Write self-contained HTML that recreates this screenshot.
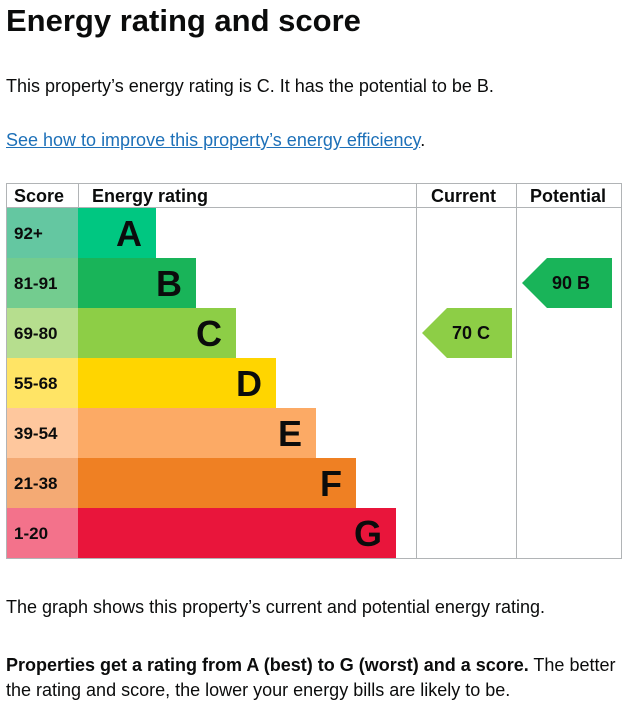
<!DOCTYPE html>
<html><head><meta charset="utf-8"><style>
body{margin:0;background:#fff;width:628px;height:708px;overflow:hidden;font-family:"Liberation Sans",Arial,sans-serif;color:#0b0c0c}
.t{position:absolute;left:6px;margin:0;white-space:nowrap}
</style></head><body>
<h1 class="t" style="top:3px;font-size:31px;font-weight:bold">Energy rating and score</h1>
<p class="t" style="top:76px;font-size:18px">This property’s energy rating is C. It has the potential to be B.</p>
<p class="t" style="top:130px;font-size:18px"><a href="#" style="color:#1d70b8;text-decoration:underline">See how to improve this property’s energy efficiency</a>.</p>
<svg id="chart" width="628" height="570" style="position:absolute;left:0;top:0" font-family="Liberation Sans, Arial, sans-serif"></svg>
<p class="t" style="top:597px;font-size:18px">The graph shows this property’s current and potential energy rating.</p>
<p class="t" style="top:653px;font-size:18px;line-height:25px"><b>Properties get a rating from A (best) to G (worst) and a score.</b> The better<br>the rating and score, the lower your energy bills are likely to be.</p>
<script>
const bands=['A','B','C','D','E','F','G'];
const ranges=['92+','81-91','69-80','55-68','39-54','21-38','1-20'];
const barColors=['#00c781','#19b459','#8dce46','#ffd500','#fcaa65','#ef8023','#e9153b'];
const scoreColors=['#64c7a1','#73cc8f','#b6de8e','#ffe465','#fec79d','#f4aa74','#f3728b'];
const currentScore=70, currentBand='C';
const potentialScore=90, potentialBand='B';
const svg=document.getElementById('chart');
const NS='http://www.w3.org/2000/svg';
function mk(tag,attrs,txt){const e=document.createElementNS(NS,tag);for(const k in attrs)e.setAttribute(k,attrs[k]);if(txt!==undefined)e.textContent=txt;svg.appendChild(e);return e;}
const top0=208,rowH=50,barX=78;
function rowY(i){return top0+i*rowH;}
function barRight(i){return 156+i*40;}
// grid
let g;
g=mk('rect',{x:6.5,y:183.5,width:615,height:375,fill:'none',stroke:'#b1b4b6'});

g=mk('line',{x1:6,y1:207.5,x2:622,y2:207.5,stroke:'#b1b4b6'});

[78.5,416.5,516.5].forEach((x,i)=>{const l=mk('line',{x1:x,y1:183,x2:x,y2:i==0?208:558,stroke:'#b1b4b6'});

});
const heads=[['Score',14],['Energy rating',92],['Current',431],['Potential',530]];
heads.forEach(h=>{const t=mk('text',{x:h[1],y:202,'font-size':18,'font-weight':'bold',fill:'#0b0c0c'},h[0]);

});
bands.forEach((b,i)=>{
 const y=rowY(i);
 const s=mk('rect',{x:7,y:y,width:71,height:rowH,fill:scoreColors[i]});
 
 
 const st=mk('text',{x:14,y:y+31,'font-size':17,'font-weight':'bold',fill:'#0b0c0c'},ranges[i]);
 
 
 const r=mk('rect',{x:barX,y:y,width:barRight(i)-barX,height:rowH,fill:barColors[i]});
 
 
 const bt=mk('text',{x:barRight(i)-14,y:y+38,'font-size':36,'font-weight':'bold','text-anchor':'end',fill:'#0b0c0c'},b);
 
 
});
function arrow(band,score,x0,name){
 const i=bands.indexOf(band),y=rowY(i),w=90,n=25;
 const p=mk('polygon',{points:`${x0},${y+rowH/2} ${x0+n},${y} ${x0+w},${y} ${x0+w},${y+rowH} ${x0+n},${y+rowH}`,fill:barColors[i]});
 
 
 const t=mk('text',{x:x0+n+5,y:y+31,'font-size':18,'font-weight':'bold',fill:'#0b0c0c','xml:space':'preserve'},score+'  '+band);
 
 
}
arrow(currentBand,currentScore,422,'current-rating');
arrow(potentialBand,potentialScore,522,'potential-rating');
</script>
</body></html>
